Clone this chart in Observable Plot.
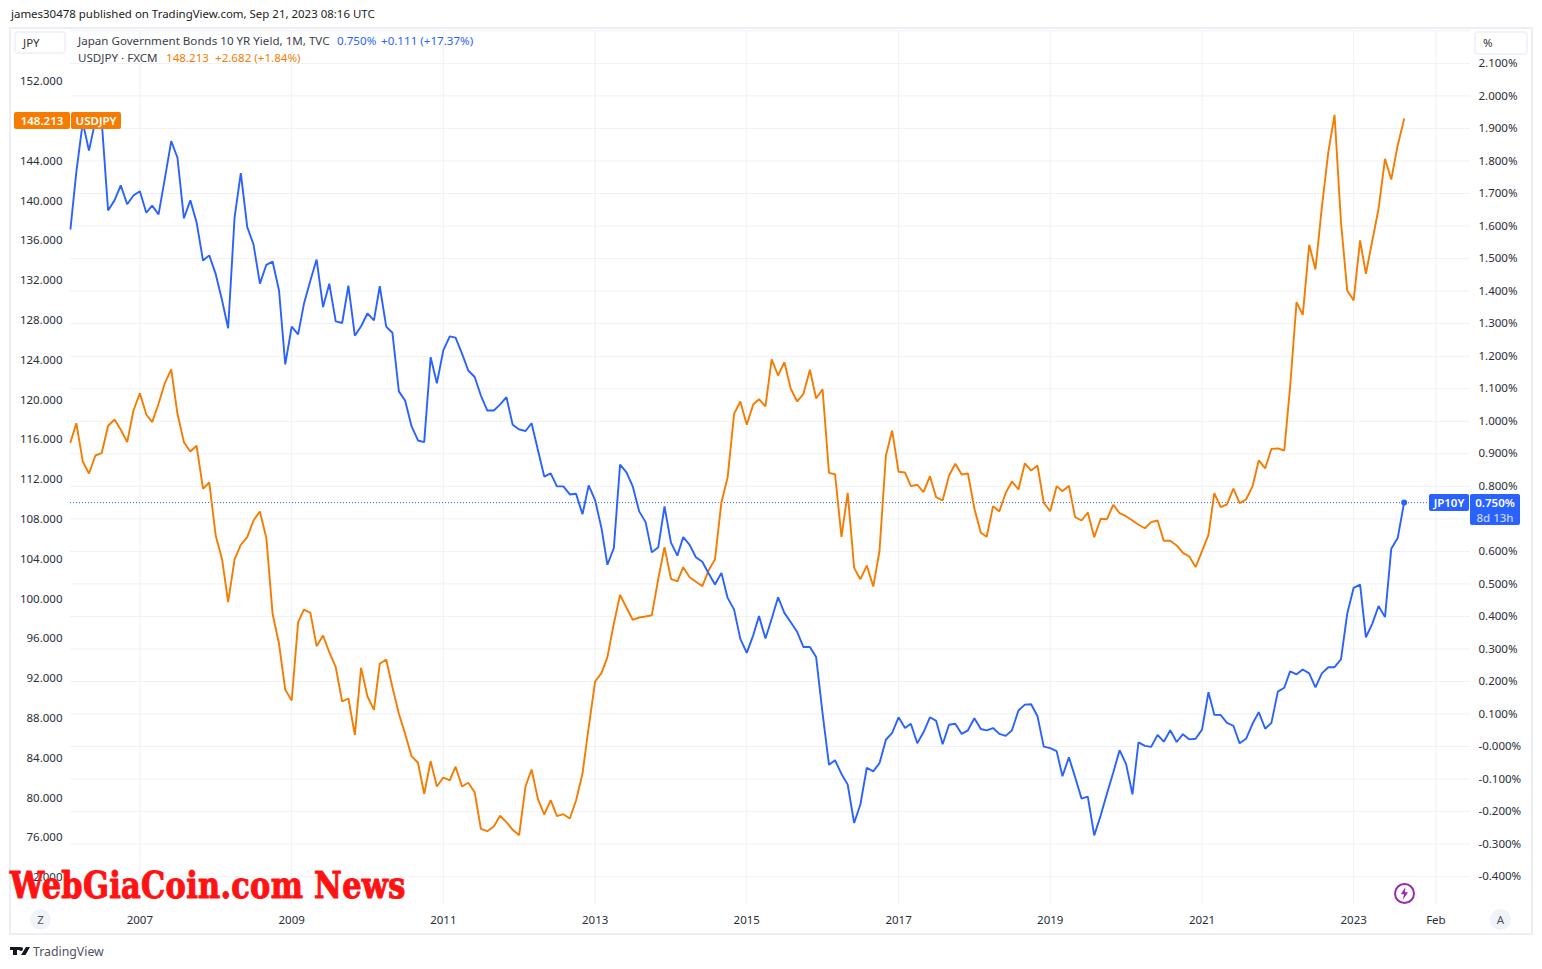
<!DOCTYPE html>
<html><head><meta charset="utf-8">
<script src="https://cdn.jsdelivr.net/npm/d3@7"></script>
<script src="https://cdn.jsdelivr.net/npm/@observablehq/plot@0.6"></script>
<style>
html,body{margin:0;padding:0;background:#fff;width:1542px;height:969px;overflow:hidden;font-family:"Noto Sans",sans-serif;color:#131722}
.a{position:absolute;white-space:nowrap}
#frame{position:absolute;left:9px;top:27px;width:1520px;height:904px;border:2px solid #eceef4}
#chart{position:absolute;left:0;top:27px}
.btn{background:#fff;border:2px solid #f0f3fa;border-radius:4px;box-sizing:border-box;font-size:11.5px;line-height:19px;color:#333}
.leg{font-size:11.6px;line-height:16px}
.badge{color:#fff;font-weight:600;font-size:11.5px;text-align:center;border-radius:2px;box-sizing:border-box}
.circ{background:#f0f3fa;border-radius:50%;text-align:center;font-size:11.5px;color:#555;width:21px;height:21px;line-height:21px}
</style></head><body>
<div class="a" style="left:11px;top:6px;font-size:11.46px;line-height:16px;color:#222">james30478 published on TradingView.com, Sep 21, 2023 08:16 UTC</div>
<div id="frame"></div>
<div id="chart"></div>
<script>
// Series start month; one reading per month
const startYear = 2006, startMonth = 1;
// Japan 10Y yield, %, monthly
const jp10y = [1.592,1.766,1.919,1.832,1.925,1.925,1.648,1.679,1.725,1.667,1.694,1.707,1.641,1.663,1.636,1.745,1.861,1.810,1.624,1.679,1.612,1.494,1.510,1.453,1.371,1.286,1.627,1.763,1.597,1.544,1.423,1.481,1.491,1.402,1.175,1.291,1.267,1.361,1.433,1.497,1.351,1.423,1.307,1.302,1.417,1.263,1.292,1.332,1.310,1.415,1.291,1.272,1.092,1.064,0.985,0.941,0.936,1.197,1.117,1.218,1.261,1.257,1.208,1.156,1.136,1.079,1.033,1.033,1.051,1.074,0.989,0.975,0.970,0.994,0.910,0.830,0.840,0.800,0.800,0.775,0.777,0.714,0.803,0.757,0.670,0.559,0.610,0.867,0.843,0.800,0.723,0.690,0.597,0.613,0.738,0.627,0.587,0.644,0.620,0.582,0.568,0.533,0.498,0.534,0.457,0.421,0.331,0.288,0.342,0.401,0.332,0.393,0.459,0.411,0.382,0.352,0.306,0.306,0.275,0.102,-0.056,-0.042,-0.084,-0.117,-0.235,-0.178,-0.065,-0.076,-0.051,0.021,0.042,0.090,0.057,0.070,0.010,0.044,0.090,0.079,0.007,0.067,0.070,0.039,0.050,0.087,0.054,0.050,0.057,0.039,0.033,0.050,0.111,0.129,0.130,0.093,0.000,-0.005,-0.014,-0.091,-0.033,-0.094,-0.160,-0.154,-0.273,-0.212,-0.145,-0.079,-0.011,-0.053,-0.147,0.013,0.002,-0.001,0.036,0.015,0.050,0.014,0.038,0.022,0.024,0.052,0.167,0.098,0.097,0.073,0.064,0.010,0.024,0.070,0.106,0.055,0.073,0.169,0.181,0.231,0.222,0.237,0.225,0.182,0.225,0.244,0.244,0.268,0.408,0.488,0.498,0.336,0.378,0.432,0.398,0.608,0.641,0.750];
// USD/JPY, monthly
const usdjpy = [115.75,117.66,113.81,112.60,114.41,114.64,117.40,118.03,117.00,115.75,118.93,120.67,118.53,117.76,119.61,121.68,123.06,118.60,115.75,114.81,115.39,111.07,111.70,106.37,103.96,99.67,103.96,105.44,106.20,107.88,108.78,106.10,98.50,95.49,90.86,89.79,97.66,98.93,98.60,95.25,96.32,94.64,93.14,89.69,89.99,86.34,93.07,90.19,88.85,93.48,93.91,91.12,88.45,86.44,84.19,83.53,80.41,83.69,81.15,82.05,81.75,83.13,81.15,81.52,80.57,76.89,76.65,77.13,78.20,77.56,76.79,76.25,81.17,82.85,79.84,78.33,79.77,78.16,78.36,77.93,79.74,82.42,87.10,91.70,92.57,94.14,97.50,100.41,99.11,97.90,98.13,98.23,98.36,102.02,105.20,102.02,101.75,103.19,102.18,101.72,101.28,102.85,103.96,109.72,112.23,118.60,119.84,117.50,119.54,120.07,119.34,124.06,122.45,123.79,121.12,119.84,120.61,123.02,120.14,121.07,112.67,112.53,106.24,110.66,103.12,101.98,103.35,101.24,104.79,114.41,116.92,112.77,112.70,111.33,111.47,110.72,112.33,110.22,109.89,112.40,113.58,112.50,112.60,109.05,106.64,106.24,109.32,108.78,110.66,111.80,111.00,113.63,112.90,113.40,109.66,108.81,111.33,110.82,111.37,108.21,107.88,108.68,106.20,108.05,108.01,109.46,108.61,108.31,107.88,107.45,107.10,107.71,107.88,105.84,105.84,105.37,104.63,104.26,103.19,104.79,106.44,110.62,109.22,109.49,111.07,109.62,109.99,111.30,113.91,113.11,115.08,115.12,114.91,121.28,129.82,128.55,135.59,133.11,139.37,144.90,148.65,137.86,131.00,130.00,136.02,132.67,136.02,139.21,144.23,142.15,145.57,148.213];
// Axis ticks
const pctTicks = [-0.4,-0.3,-0.2,-0.1,0,0.1,0.2,0.3,0.4,0.5,0.6,0.8,0.9,1.0,1.1,1.2,1.3,1.4,1.5,1.6,1.7,1.8,1.9,2.0,2.1];
const pctGrid = [-0.4,-0.3,-0.2,-0.1,0,0.1,0.2,0.3,0.4,0.5,0.6,0.7,0.8,0.9,1.0,1.1,1.2,1.3,1.4,1.5,1.6,1.7,1.8,1.9,2.0,2.1,2.2];
const yenTicks = [72,76,80,84,88,92,96,100,104,108,112,116,120,124,128,132,136,140,144,152];
const yearTicks = [2007,2009,2011,2013,2015,2017,2019,2021,2023];
const febTick = new Date(Date.UTC(2024,1,1));
const lastPct = 0.75, lastYen = 148.213;
// The two price scales share one pane: yen expressed on the % axis
const yenPerPct = 32.693, pctAt152 = 2.04457;
const yenToPct = v => pctAt152 - (152 - v) / yenPerPct;
const pctToYen = p => 152 - (pctAt152 - p) * yenPerPct;

const month = i => new Date(Date.UTC(startYear, startMonth + i, 1));
const blue = jp10y.map((v,i)=>({date:month(i),v}));
const orange = usdjpy.map((v,i)=>({date:month(i),v}));
const BLUE="#2962ff", ORANGE="#f57c00", GRID="#f0f1f5";
const timeTicks = yearTicks.map(y=>new Date(Date.UTC(y,0,1))).concat([febTick]);

const plot = Plot.plot({
  width:1542,height:908,marginLeft:70,marginRight:72,marginTop:3,marginBottom:30,
  style:{fontFamily:'"Noto Sans",sans-serif',fontSize:"11.5px",color:"#2a2e39",background:"transparent"},
  x:{type:"utc",domain:[month(0),febTick],range:[70,1435.4]},
  y:{domain:[-0.4,2.2],range:[849.2,3.4]},
  marks:[
    Plot.ruleY(pctGrid,{stroke:GRID,strokeWidth:1}),
    Plot.ruleX(timeTicks,{stroke:GRID,strokeWidth:1}),
    Plot.ruleY([lastPct],{stroke:BLUE,strokeWidth:1,strokeDasharray:"1 2"}),
    Plot.line(orange,{x:"date",y:d=>yenToPct(d.v),stroke:ORANGE,strokeWidth:1.9,strokeLinejoin:"miter",curve:"linear"}),
    Plot.line(blue,{x:"date",y:"v",stroke:BLUE,strokeWidth:1.9,strokeLinejoin:"miter",curve:"linear"}),
    Plot.dot(blue.slice(-1),{x:"date",y:"v",r:3,fill:BLUE}),
    Plot.axisY(pctTicks,{anchor:"right",tickSize:0,tickPadding:8,label:null,tickFormat:d=>(d===0?"-0.000":d.toFixed(3))+"%"}),
    Plot.axisY(yenTicks.map(yenToPct),{anchor:"left",tickSize:0,tickPadding:8,label:null,tickFormat:d=>pctToYen(d).toFixed(3)}),
    Plot.axisX(timeTicks,{anchor:"bottom",tickSize:0,tickPadding:10,label:null,tickFormat:d=>d.getUTCMonth()===1?"Feb":String(d.getUTCFullYear())})
  ]
});
document.getElementById("chart").append(plot);

// Overlays, placed through the plot's own scales
const top0 = 27;
const yp = p => plot.scale("y").apply(p)+top0;
function add(html,css,cls){const e=document.createElement("div");e.className="a "+(cls||"");e.style.cssText=css;e.innerHTML=html;document.body.append(e);return e;}
add("","left:1474px;top:50px;width:54px;height:9px;background:#fff");
add("JPY","left:14px;top:31px;width:52px;height:23px;padding-left:7px","btn");
add("%","left:1474px;top:31px;width:54px;height:24px;padding-left:7px","btn");
add(`Japan Government Bonds 10 YR Yield, 1M, TVC`,"left:78px;top:33px;color:#3a3e49","leg");
add(`<span style="color:${BLUE}">0.750%</span>`,"left:337px;top:33px","leg");
add(`<span style="color:${BLUE}">+0.111 (+17.37%)</span>`,"left:381px;top:33px","leg");
add(`USDJPY · FXCM`,"left:78px;top:50px;color:#3a3e49","leg");
add(`<span style="color:${ORANGE}">148.213</span>`,"left:166px;top:50px","leg");
add(`<span style="color:${ORANGE}">+2.682 (+1.84%)</span>`,"left:215px;top:50px","leg");
const yo = yp(yenToPct(lastYen)), yb = yp(lastPct);
add(lastYen.toFixed(3),`left:14px;top:${yo-7}px;width:56px;height:17px;line-height:17px;background:${ORANGE}`,"badge");
add("USDJPY",`left:71px;top:${yo-7}px;width:50px;height:17px;line-height:17px;background:${ORANGE}`,"badge");
add("JP10Y",`left:1429px;top:${yb-8}px;width:40px;height:17px;line-height:17px;background:${BLUE}`,"badge");
add(`<div style="line-height:15px;margin-top:1px">0.750%</div><div style="line-height:15px;font-weight:500;color:#c7d5ff">8d 13h</div>`,`left:1470px;top:${yb-8}px;width:50px;height:31px;background:${BLUE}`,"badge");
add("Z","left:30px;top:909px","circ");
add("A","left:1490px;top:909px","circ");
add("","left:1394px;top:883px;width:17px;height:17px;border:2px solid #9c27b0;border-radius:50%");
add("","left:1400px;top:887px;width:9px;height:13px;background:#9c27b0;clip-path:polygon(60% 0,10% 55%,45% 55%,30% 100%,90% 40%,55% 40%)");
add("WebGiaCoin.com News",'left:10px;top:863px;font:bold 36.5px "DejaVu Serif Condensed","DejaVu Serif",serif;color:#ff1212;-webkit-text-stroke:1px #ff1212;line-height:46px;letter-spacing:.35px;transform:scaleX(.925);transform-origin:left top');
add("","left:10px;top:947px;width:10px;height:3px;background:#131722");
add("","left:13px;top:947px;width:4px;height:8px;background:#131722");
add("","left:19px;top:947px;width:4px;height:4px;background:#131722;border-radius:50%");
add("","left:21px;top:947px;width:9px;height:8px;background:#131722;clip-path:polygon(55% 0,100% 0,50% 100%,0 100%)");
add("TradingView",'left:33px;top:943px;font-size:12.3px;line-height:17px;color:#50535e');
</script>
</body></html>
